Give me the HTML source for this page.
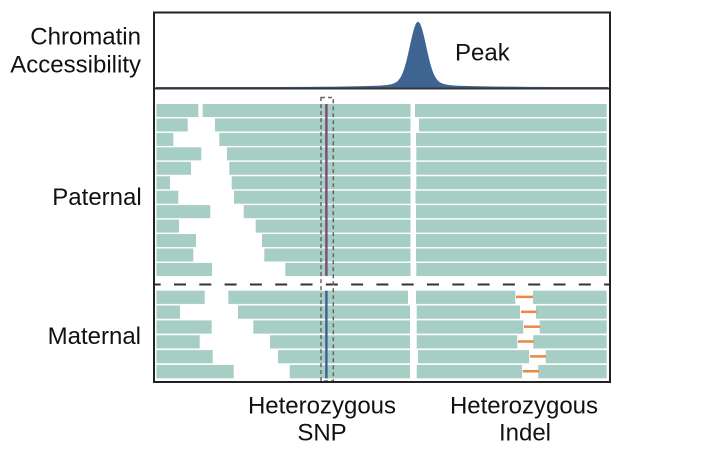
<!DOCTYPE html>
<html>
<head>
<meta charset="utf-8">
<style>
  html,body{margin:0;padding:0;background:#fff;}
  svg{display:block;}
  text{font-family:"Liberation Sans",Arial,sans-serif;font-size:24px;fill:#111;}
</style>
</head>
<body>
<svg width="709" height="452" viewBox="0 0 709 452" xmlns="http://www.w3.org/2000/svg">
  <rect width="709" height="452" fill="#fff"/>

  <!-- Peak -->
  <path fill="#3e6592" d="M156,88 L156,87 L278,86.97 L308,86.87 L338,86.58 L358,86.27 L373,85.9 L380,85.58 L386,85.1 L390,84.52 L393,83.75 L396,82.35 L398,80.74 L400,78.25 L402,74.57 L404,69.39 L406,62.61 L408,54.41 L410,45.32 L412,36.32 L414,28.58 L416,23.34 L418,21.5 L420,23.34 L422,28.58 L424,36.32 L426,45.32 L428,54.41 L430,62.61 L432,69.39 L434,74.57 L436,78.25 L438,80.74 L440,82.35 L443,83.75 L446,84.52 L450,85.1 L456,85.58 L463,85.9 L478,86.27 L498,86.58 L528,86.87 L558,86.97 L608,87 L608,88 Z"/>

  <!-- Paternal bars -->
  <g fill="#a6cec4">
    <rect x="156.5" y="104" width="41.8" height="13"/><rect x="202.7" y="104" width="207.8" height="13"/><rect x="415" y="104" width="191.7" height="13"/>
    <rect x="156.5" y="118.45" width="31.2" height="13"/><rect x="215" y="118.45" width="195.5" height="13"/><rect x="419" y="118.45" width="187.7" height="13"/>
    <rect x="156.5" y="132.9" width="16.8" height="13"/><rect x="219.3" y="132.9" width="191.2" height="13"/><rect x="416" y="132.9" width="190.7" height="13"/>
    <rect x="156.5" y="147.35" width="44.8" height="13"/><rect x="227" y="147.35" width="183.5" height="13"/><rect x="416.3" y="147.35" width="190.4" height="13"/>
    <rect x="156.5" y="161.8" width="34.5" height="13"/><rect x="229.3" y="161.8" width="181.2" height="13"/><rect x="416.3" y="161.8" width="190.4" height="13"/>
    <rect x="156.5" y="176.25" width="13.5" height="13"/><rect x="231.7" y="176.25" width="178.8" height="13"/><rect x="416.3" y="176.25" width="190.4" height="13"/>
    <rect x="156.5" y="190.7" width="21.8" height="13"/><rect x="234" y="190.7" width="176.5" height="13"/><rect x="415.5" y="190.7" width="191.2" height="13"/>
    <rect x="156.5" y="205.15" width="53.8" height="13"/><rect x="243.7" y="205.15" width="166.8" height="13"/><rect x="416" y="205.15" width="190.7" height="13"/>
    <rect x="156.5" y="219.6" width="22.5" height="13"/><rect x="255.7" y="219.6" width="154.8" height="13"/><rect x="416" y="219.6" width="190.7" height="13"/>
    <rect x="156.5" y="234.05" width="39.5" height="13"/><rect x="262" y="234.05" width="148.5" height="13"/><rect x="416" y="234.05" width="190.7" height="13"/>
    <rect x="156.5" y="248.5" width="36.8" height="13"/><rect x="264.3" y="248.5" width="146.2" height="13"/><rect x="416" y="248.5" width="190.7" height="13"/>
    <rect x="156.5" y="262.95" width="55.5" height="13"/><rect x="285.3" y="262.95" width="125.2" height="13"/><rect x="416.3" y="262.95" width="190.4" height="13"/>
  </g>

  <!-- Maternal bars -->
  <g fill="#a6cec4">
    <rect x="156.5" y="290.7" width="48.2" height="13.2"/><rect x="228.3" y="290.7" width="179.7" height="13.2"/><rect x="416" y="290.7" width="99.3" height="13.2"/><rect x="533" y="290.7" width="73.7" height="13.2"/>
    <rect x="156.5" y="305.55" width="23.5" height="13.2"/><rect x="238" y="305.55" width="172" height="13.2"/><rect x="416.7" y="305.55" width="103.3" height="13.2"/><rect x="536" y="305.55" width="70.7" height="13.2"/>
    <rect x="156.5" y="320.4" width="55.2" height="13.2"/><rect x="253.3" y="320.4" width="156.7" height="13.2"/><rect x="416.7" y="320.4" width="106.6" height="13.2"/><rect x="539.7" y="320.4" width="67" height="13.2"/>
    <rect x="156.5" y="335.25" width="43.2" height="13.2"/><rect x="270" y="335.25" width="140" height="13.2"/><rect x="416.7" y="335.25" width="100.6" height="13.2"/><rect x="533.3" y="335.25" width="73.4" height="13.2"/>
    <rect x="156.5" y="350.1" width="56.2" height="13.2"/><rect x="278" y="350.1" width="132" height="13.2"/><rect x="418" y="350.1" width="111" height="13.2"/><rect x="545.7" y="350.1" width="61" height="13.2"/>
    <rect x="156.5" y="364.95" width="77.2" height="13.4"/><rect x="289.7" y="364.95" width="120.3" height="13.4"/><rect x="416.7" y="364.95" width="105.3" height="13.4"/><rect x="538.3" y="364.95" width="68.4" height="13.4"/>
  </g>

  <!-- Indel deletions (orange) -->
  <g stroke="#e8894a" stroke-width="2.5">
    <line x1="516" y1="296.9" x2="533" y2="296.9"/>
    <line x1="521" y1="311.8" x2="536.7" y2="311.8"/>
    <line x1="524" y1="326.7" x2="540" y2="326.7"/>
    <line x1="518" y1="341.5" x2="534" y2="341.5"/>
    <line x1="530" y1="356.4" x2="546" y2="356.4"/>
    <line x1="522.7" y1="371.3" x2="539" y2="371.3"/>
  </g>

  <!-- SNP lines -->
  <rect x="325.2" y="104" width="2.4" height="172" fill="#7a4a78"/>
  <rect x="325.2" y="290.7" width="2.4" height="87.7" fill="#3b5f93"/>

  <!-- Dashed separator -->
  <line x1="154" y1="284.5" x2="610" y2="284.5" stroke="#333" stroke-width="2" stroke-dasharray="12 13.3" stroke-dashoffset="5.3"/>

  <!-- Dashed box around SNP -->
  <rect x="321" y="97.5" width="12.3" height="283.5" fill="none" stroke="#666" stroke-width="1.5" stroke-dasharray="4 3"/>

  <!-- Frame -->
  <line x1="154" y1="88.5" x2="610" y2="88.5" stroke="#333" stroke-width="2"/>
  <rect x="154" y="12.5" width="456" height="369.5" fill="none" stroke="#222" stroke-width="2"/>

  <!-- Labels -->
  <text x="141" y="44.7" text-anchor="end">Chromatin</text>
  <text x="141" y="72.5" text-anchor="end">Accessibility</text>
  <text x="455" y="60.5">Peak</text>
  <text x="141.7" y="205" text-anchor="end">Paternal</text>
  <text x="141" y="344" text-anchor="end">Maternal</text>
  <text x="322" y="413.3" text-anchor="middle">Heterozygous</text>
  <text x="322" y="440.7" text-anchor="middle">SNP</text>
  <text x="524" y="413.3" text-anchor="middle">Heterozygous</text>
  <text x="525" y="440.7" text-anchor="middle">Indel</text>
</svg>
</body>
</html>
